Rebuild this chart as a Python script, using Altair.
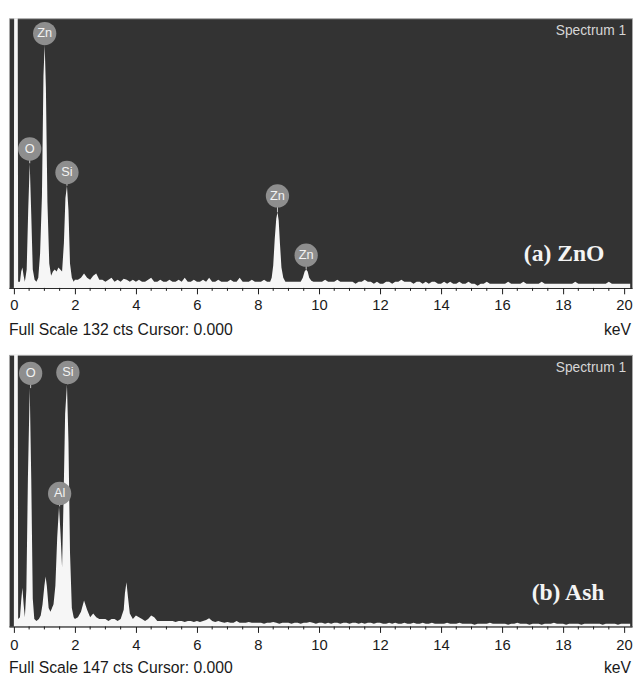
import altair as alt
import pandas as pd

# ---------------- data ----------------
# (a) ZnO : low-energy region, explicit points (keV, counts)
zno_low_e = [0.00, 0.02, 0.11, 0.14, 0.20, 0.24, 0.28, 0.32, 0.36, 0.42, 0.47, 0.52, 0.57,
             0.62, 0.68, 0.74, 0.80, 0.86, 0.92, 0.97, 1.01, 1.05, 1.10, 1.16, 1.22, 1.28,
             1.34, 1.40, 1.46, 1.52, 1.58, 1.64, 1.69, 1.74, 1.79, 1.84, 1.90, 1.96]
zno_low_c = [0, 300, 300, 3, 3, 8, 10, 6, 3, 9, 38, 61, 36,
             9, 4, 3, 5, 17, 45, 104, 119, 98, 42, 12, 6, 8,
             9, 8, 10, 9, 8, 22, 44, 50, 38, 12, 5, 3]
# (a) background every 0.1 keV from 2.0 to 20.2 keV
zno_bg = [4, 4, 5, 7, 5, 4, 6, 7, 4, 4,
          3, 4, 5, 3, 4, 3, 4.5, 4, 3, 4,
          3, 4, 3, 3, 4, 5, 3, 3, 4, 3,
          3, 4, 3, 3, 4, 3, 5, 3, 3, 4,
          3, 3, 4, 3, 5, 3, 3, 4, 3, 3,
          3, 4, 3, 3, 5, 3, 3, 3, 4, 3,
          3, 3, 4, 3, 3, 3, 3, 3, 3, 3,
          3, 3, 3, 3, 3, 3, 3, 3, 3, 3,
          3, 3, 4, 3, 3, 3, 4, 3, 3, 3,
          3, 3, 2, 3, 3, 4, 3, 3, 2, 3,
          2, 2, 3, 3, 2, 3, 3, 4, 3, 3,
          3, 2, 3, 3, 2, 3, 2, 3, 3, 2,
          2, 3, 2, 3, 2, 2, 3, 2, 2, 3,
          2, 2, 1, 2, 2, 3, 2, 2, 2, 2,
          2, 2, 3, 2, 2, 2, 2, 3, 2, 2,
          2, 2, 2, 3, 2, 2, 2, 2, 2, 2,
          2, 2, 2, 2, 3, 2, 2, 2, 2, 2,
          2, 2, 2, 2, 2, 3, 2, 2, 2, 2,
          2, 2, 2]
# (a) Zn K lines
zno_pk_e = [8.40, 8.45, 8.50, 8.55, 8.60, 8.64, 8.68, 8.72, 8.77, 8.83, 8.90,
            9.40, 9.47, 9.53, 9.58, 9.63, 9.68, 9.75, 9.82]
zno_pk_c = [3, 5, 11, 24, 34, 37, 33, 22, 10, 5, 3,
            3, 5, 8, 9, 8, 5, 3.5, 3]
zno_windows = [(8.35, 8.95), (9.35, 9.85)]

# (b) Ash : low-energy region
ash_low_e = [0.00, 0.02, 0.11, 0.14, 0.20, 0.24, 0.28, 0.32, 0.36, 0.41, 0.46, 0.52, 0.57,
             0.62, 0.67, 0.74, 0.82, 0.88, 0.94, 1.00, 1.04, 1.08, 1.14, 1.20, 1.25, 1.30,
             1.36, 1.42, 1.48, 1.53, 1.58, 1.63, 1.68, 1.74, 1.79, 1.84, 1.90, 1.96]
ash_low_c = [0, 350, 350, 4, 5, 14, 21, 12, 5, 20, 80, 129, 80,
             15, 4, 3, 4, 6, 12, 22, 27, 22, 10, 8, 10, 12,
             22, 48, 65, 50, 32, 70, 115, 131, 100, 40, 10, 5]
# (b) background every 0.1 keV from 2.0 to 20.2 keV
ash_bg = [4, 5, 8, 14, 9, 5, 7, 5, 4, 4,
          4, 3, 4, 4, 3, 4, 4, 4, 4, 4,
          6, 5, 4, 3, 4, 6, 5, 3, 3, 3,
          3, 3, 3, 2.5, 3, 3, 2.5, 3, 3, 2.5,
          3, 2.5, 3, 3.5, 4.5, 3, 2.5, 3, 2.5, 2,
          2.5, 2, 2, 3, 2, 2, 2, 2.5, 2, 2,
          2, 2, 1.5, 2, 2, 2.5, 2, 1.5, 2, 2,
          2, 1.5, 2, 2, 1.5, 2, 2, 2.5, 2, 1.5,
          2, 2, 1.5, 2, 1.5, 2, 2, 1.5, 2, 2,
          1.5, 2, 2, 1.5, 2, 1.5, 2, 2, 1.5, 2,
          2, 1.5, 1.5, 2, 1.5, 2, 1.5, 1.5, 2, 1.5,
          1.5, 2, 1.5, 1.5, 2, 1.5, 1.5, 2, 1.5, 1.5,
          1.5, 1.5, 2, 1.5, 1.5, 1.5, 2, 1.5, 1.5, 1.5,
          1.5, 1, 1.5, 1.5, 1.5, 1.5, 2, 1.5, 1.5, 1.5,
          1.5, 1.5, 1, 1.5, 1.5, 2, 1.5, 1.5, 1.5, 1,
          1.5, 1.5, 1.5, 1, 1.5, 1.5, 1.5, 2, 1.5, 1.5,
          1.5, 1, 1.5, 1.5, 1.5, 1.5, 1, 1.5, 1.5, 1.5,
          1.5, 1.5, 1.5, 1, 1.5, 1.5, 1.5, 1.5, 1, 1.5,
          1.5, 1.5, 1.5]
# (b) Ca K line
ash_pk_e = [3.60, 3.64, 3.69, 3.74, 3.80]
ash_pk_c = [9, 18, 24, 16, 7]
ash_windows = [(3.55, 3.85)]

# peak labels: element, energy, peak counts, label-centre counts
zno_lab_name = ["O", "Zn", "Si", "Zn", "Zn"]
zno_lab_e = [0.52, 1.01, 1.74, 8.64, 9.58]
zno_lab_peak = [61, 119, 50, 37, 9]
zno_lab_y = [68, 124.5, 56.5, 45, 16]

ash_lab_name = ["O", "Al", "Si"]
ash_lab_e = [0.55, 1.50, 1.77]
ash_lab_peak = [129, 65, 131]
ash_lab_y = [137, 72, 137.5]

major_ticks = [0, 2, 4, 6, 8, 10, 12, 14, 16, 18, 20]
minor_ticks = [0.5, 1, 1.5, 2.5, 3, 3.5, 4.5, 5, 5.5, 6.5, 7, 7.5, 8.5, 9, 9.5,
               10.5, 11, 11.5, 12.5, 13, 13.5, 14.5, 15, 15.5, 16.5, 17, 17.5,
               18.5, 19, 19.5]

# ---------------- build ----------------
W = 633
FONT = "Liberation Sans"


def spectrum(low_e, low_c, bg, pk_e, pk_c, windows):
    pts = list(zip(low_e, low_c))
    for i, c in enumerate(bg):
        e = round(2.0 + 0.1 * i, 2)
        if any(a <= e <= b for a, b in windows):
            continue
        pts.append((e, c))
    pts += list(zip(pk_e, pk_c))
    pts.sort()
    return pd.DataFrame(pts, columns=["keV", "counts"])


def panel(df, full, H, lab_name, lab_e, lab_peak, lab_y, tag, footer, foot_dy, lpad):
    xs = alt.Scale(domain=[-0.16, 20.26], nice=False, zero=False)
    ys = alt.Scale(domain=[0, full], nice=False)
    x_axis = alt.Axis(values=major_ticks, format="d", tickSize=6, labelPadding=lpad,
                      labelFontSize=15, labelFont=FONT, labelColor="#1a1a1a",
                      tickColor="#1a1a1a", domainColor="#1a1a1a", labelFlush=False,
                      grid=False, title=None)
    area = alt.Chart(df).mark_area(color="#f6f6f6", clip=True, interpolate="linear").encode(
        x=alt.X("keV:Q", scale=xs, axis=x_axis),
        y=alt.Y("counts:Q", scale=ys, axis=None),
    )
    mt = alt.Chart(pd.DataFrame({"t": minor_ticks})).mark_rule(color="#1a1a1a").encode(
        x=alt.X("t:Q", scale=xs), y=alt.value(H), y2=alt.value(H + 3))
    lab = pd.DataFrame({"name": lab_name, "keV": lab_e, "peak": lab_peak, "ly": lab_y})
    conn = alt.Chart(lab).mark_rule(color="#c8c8c8", strokeWidth=1).encode(
        x=alt.X("keV:Q", scale=xs), y=alt.Y("peak:Q", scale=ys), y2="ly:Q")
    circ = alt.Chart(lab).mark_circle(size=560, color="#8e8e8e", opacity=1).encode(
        x=alt.X("keV:Q", scale=xs), y=alt.Y("ly:Q", scale=ys))
    ltxt = alt.Chart(lab).mark_text(font=FONT, fontSize=13, color="#f2f2f2").encode(
        x=alt.X("keV:Q", scale=xs), y=alt.Y("ly:Q", scale=ys), text="name:N")
    one = pd.DataFrame({"a": [0]})
    spec = alt.Chart(one).mark_text(text="Spectrum 1", font=FONT, fontSize=14,
                                    color="#d6d6d6", align="right", baseline="middle").encode(
        x=alt.value(627), y=alt.value(13))
    tg = alt.Chart(one).mark_text(text=tag, font="Liberation Serif", fontSize=24,
                                  fontWeight="bold", color="#f4f4f4", align="right",
                                  baseline="middle").encode(x=alt.value(605), y=alt.value(H - 34))
    foot = alt.Chart(one).mark_text(text=footer, font=FONT, fontSize=16, color="#1a1a1a",
                                    align="left", baseline="middle").encode(
        x=alt.value(0), y=alt.value(H + foot_dy))
    kev = alt.Chart(one).mark_text(text="keV", font=FONT, fontSize=16, color="#1a1a1a",
                                   align="right", baseline="middle").encode(
        x=alt.value(632), y=alt.value(H + foot_dy))
    return alt.layer(area, mt, conn, circ, ltxt, spec, tg, foot, kev).properties(
        width=W, height=H)


zno_df = spectrum(zno_low_e, zno_low_c, zno_bg, zno_pk_e, zno_pk_c, zno_windows)
ash_df = spectrum(ash_low_e, ash_low_c, ash_bg, ash_pk_e, ash_pk_c, ash_windows)

top = panel(zno_df, 132, 274, zno_lab_name, zno_lab_e, zno_lab_peak, zno_lab_y,
            "(a) ZnO", "Full Scale 132 cts Cursor: 0.000", 43, 4)
bot = panel(ash_df, 147, 276, ash_lab_name, ash_lab_e, ash_lab_peak, ash_lab_y,
            "(b) Ash", "Full Scale 147 cts Cursor: 0.000", 42, 5)

chart = alt.vconcat(top, bot, spacing=68, bounds="flush").properties(
    padding={"top": 4, "left": 0, "right": 0, "bottom": 0},
    background="white",
).configure_view(fill="#333333", stroke="#a8a8a8", strokeWidth=1)

chart.save("out.html", embed_options={"renderer": "svg", "actions": False})
